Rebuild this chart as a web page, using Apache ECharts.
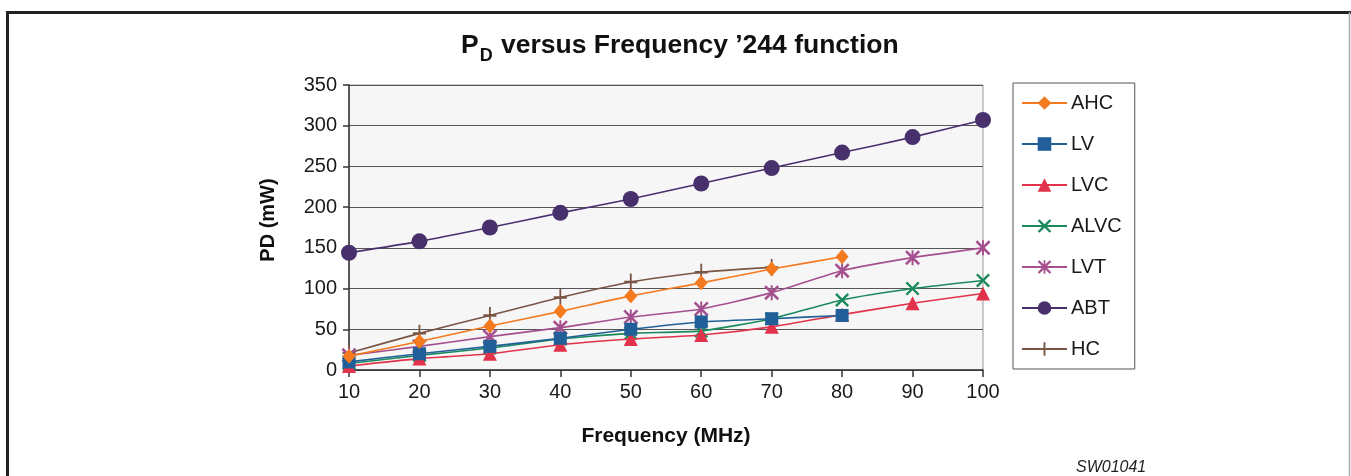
<!DOCTYPE html>
<html>
<head>
<meta charset="utf-8">
<script src="https://cdn.jsdelivr.net/npm/echarts@6/dist/echarts.min.js"></script>
<style>
html,body{margin:0;padding:0;background:#fff;}
#c{width:1351px;height:476px;}
</style>
</head>
<body>
<div id="c"></div>
<script>
const freq = [10, 20, 30, 40, 50, 60, 70, 80, 90, 100];
const AHC  = [17, 35, 54, 72, 91, 107, 124, 139, null, null];
const LV   = [10, 20, 29, 39, 50, 59, 63, 67, null, null];
const LVC  = [5, 14, 20, 31, 38, 43, 53, 68, 82, 94];
const ALVC = [8, 18, 27, 38, 45, 48, 63, 86, 100, 110];
const LVT  = [18, 29, 41, 52, 65, 75, 95, 122, 138, 150];
const ABT  = [144, 158, 175, 193, 210, 229, 248, 267, 286, 307];
const HC   = [21, 45, 67, 89, 108, 120, 126, null, null, null];
const seriesNames = ['AHC', 'LV', 'LVC', 'ALVC', 'LVT', 'ABT', 'HC'];
const seriesData = [AHC, LV, LVC, ALVC, LVT, ABT, HC];

const colors = ['#f47a20', '#215f98', '#e1334b', '#1a8a5c', '#a5508e', '#47306c', '#7a5545'];
const X_PATH = 'path://M0,1.2L1.2,0L5,3.8L8.8,0L10,1.2L6.2,5L10,8.8L8.8,10L5,6.2L1.2,10L0,8.8L3.8,5Z';
const AST_PATH = 'path://M0,1.2L1.2,0L5,3.8L8.8,0L10,1.2L6.2,5L10,8.8L8.8,10L5,6.2L1.2,10L0,8.8L3.8,5Z M4.35,0H5.65V10H4.35Z';
const PLUS_PATH = 'path://M4.3,0H5.7V4.3H10V5.7H5.7V10H4.3V5.7H0V4.3H4.3Z';
const symbols = ['diamond', 'rect', 'triangle', X_PATH, AST_PATH, 'circle', PLUS_PATH];
const sizes = [[13, 15], 13, 14, 14, 15, 16, [13, 17]];

function pairs(arr) {
  return freq.map((f, i) => arr[i] == null ? null : [f, arr[i]]).filter(p => p);
}

const series = seriesNames.map((n, i) => ({
  name: n,
  type: 'line',
  data: pairs(seriesData[i]),
  smooth: 0.2,
  symbol: symbols[i],
  symbolSize: sizes[i],
  showAllSymbol: true,
  lineStyle: { color: colors[i], width: 1.6 },
  itemStyle: { color: colors[i], borderWidth: 0 },
  emphasis: { disabled: true },
  z: 10 - i
}));

const FONT = 'Liberation Sans, Arial, sans-serif';
const chart = echarts.init(document.getElementById('c'), null, { renderer: 'canvas' });
chart.setOption({
  animation: false,
  backgroundColor: '#ffffff',
  textStyle: { fontFamily: FONT },
  title: {
    text: '{a|P}{s|D}{a| versus Frequency \u2019244 function}',
    left: 456,
    top: 22,
    textStyle: {
      rich: {
        a: { fontSize: 26.5, fontWeight: 'bold', color: '#111', fontFamily: FONT, verticalAlign: 'bottom', lineHeight: 32 },
        s: { fontSize: 18, fontWeight: 'bold', color: '#111', fontFamily: FONT, verticalAlign: 'bottom', padding: [0, 1, -6, 1], lineHeight: 32 }
      }
    }
  },
  grid: { left: 349, right: 368, top: 85, bottom: 106, show: true, backgroundColor: '#f6f6f6', borderColor: '#9a9a9a', borderWidth: 1 },
  legend: {
    orient: 'vertical',
    left: 1013,
    top: 83,
    padding: [10, 13, 10, 8],
    itemWidth: 45,
    itemHeight: 17,
    itemGap: 21,
    borderColor: '#555',
    borderWidth: 1,
    backgroundColor: '#fff',
    data: seriesNames,
    textStyle: { fontSize: 20, color: '#1a1a1a', fontFamily: FONT, padding: [0, 0, 0, -1] }
  },
  xAxis: {
    type: 'value',
    min: 10, max: 100, interval: 10,
    name: 'Frequency (MHz)',
    nameLocation: 'middle',
    nameGap: 56,
    nameTextStyle: { fontSize: 21, fontWeight: 'bold', color: '#111', fontFamily: FONT },
    axisLine: { lineStyle: { color: '#333', width: 1.5 } },
    axisTick: { show: true, length: 7, inside: false, lineStyle: { color: '#333', width: 1.5 } },
    axisLabel: { fontSize: 20, color: '#1a1a1a', margin: 12 },
    splitLine: { show: false }
  },
  yAxis: {
    type: 'value',
    min: 0, max: 350, interval: 50,
    axisLine: { show: true, lineStyle: { color: '#333', width: 1.5 } },
    axisTick: { show: true, length: 6, lineStyle: { color: '#333', width: 1.5 } },
    axisLabel: { fontSize: 20, color: '#1a1a1a', margin: 12 },
    splitLine: { show: true, lineStyle: { color: '#555', width: 1.2 } }
  },
  graphic: [
    { type: 'line', shape: { x1: 7.5, y1: 12.5, x2: 1351, y2: 12.5 }, style: { stroke: '#222', lineWidth: 3 }, silent: true },
    { type: 'line', shape: { x1: 7.5, y1: 11, x2: 7.5, y2: 476 }, style: { stroke: '#222', lineWidth: 3 }, silent: true },
    { type: 'line', shape: { x1: 1349.5, y1: 12, x2: 1349.5, y2: 476 }, style: { stroke: '#aaa', lineWidth: 1.5 }, silent: true },
    { type: 'text', x: 268, y: 220, rotation: Math.PI / 2, style: { text: 'PD (mW)', font: 'bold 20px Liberation Sans, Arial', fill: '#111', align: 'center', verticalAlign: 'middle' }, silent: true },
    { type: 'text', left: 1076, top: 460, style: { text: 'SW01041', font: 'italic 16px Liberation Sans, Arial', fill: '#222' }, silent: true }
  ],
  series: series
});
</script>
</body>
</html>
